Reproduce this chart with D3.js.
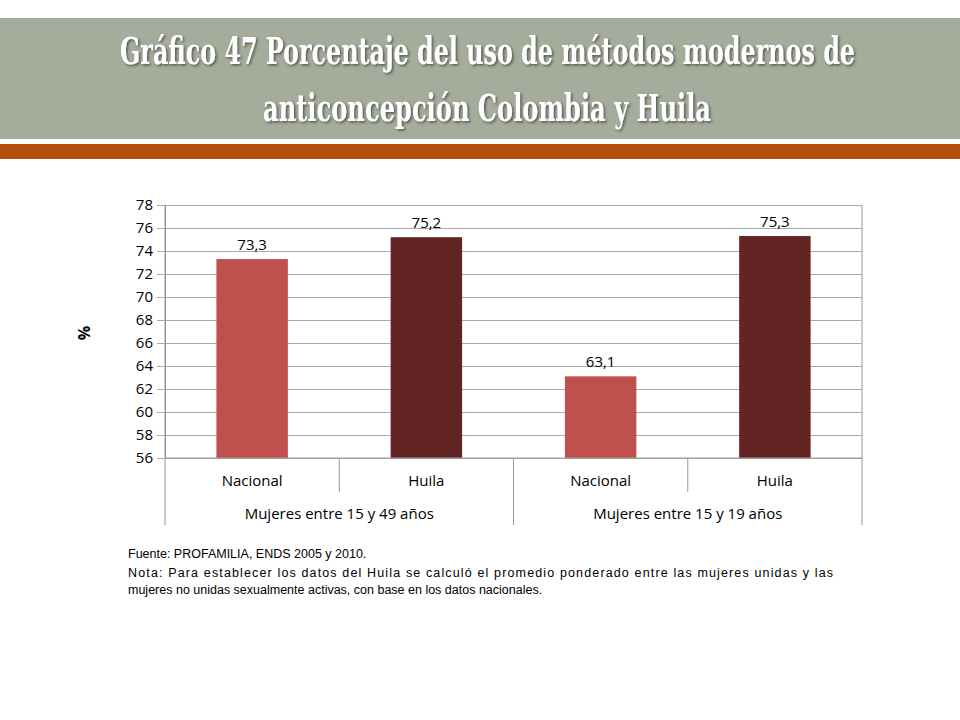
<!DOCTYPE html>
<html><head><meta charset="utf-8">
<script src="https://cdn.jsdelivr.net/npm/d3@7"></script>
<style>body{margin:0;background:#fff}</style>
</head><body>
<script>
// Data
var groups = ["Mujeres entre 15 y 49 años", "Mujeres entre 15 y 19 años"];
var places = ["Nacional", "Huila", "Nacional", "Huila"];
var values = [73.3, 75.2, 63.1, 75.3];
var yTicks = [56, 58, 60, 62, 64, 66, 68, 70, 72, 74, 76, 78];
var colors = ["#c0504d", "#632523", "#c0504d", "#632523"];

var svg = d3.select("body").append("svg").attr("width", 960).attr("height", 720);

// Title banner
svg.append("rect").attr("x", 0).attr("y", 18).attr("width", 960).attr("height", 121).attr("fill", "#a5ac9b");
svg.append("rect").attr("x", 0).attr("y", 144).attr("width", 960).attr("height", 15).attr("fill", "#b5500f");
var defs = svg.append("defs");
defs.append("filter").attr("id", "sh").append("feDropShadow")
	.attr("dx", 1.5).attr("dy", 1.5).attr("stdDeviation", 1).attr("flood-color", "#333").attr("flood-opacity", 0.7);
var title = svg.append("text").attr("fill", "#fff")
	.attr("filter", "url(#sh)")
	.style("font-family", "'DejaVu Serif Condensed', 'DejaVu Serif', serif")
	.style("font-size", "38px").style("font-weight", "bold");
title.append("tspan").attr("x", 120).attr("y", 64).attr("textLength", 735).attr("lengthAdjust", "spacingAndGlyphs")
	.text("Gráfico 47 Porcentaje del uso de métodos modernos de");
title.append("tspan").attr("x", 263).attr("y", 121).attr("textLength", 448).attr("lengthAdjust", "spacingAndGlyphs")
	.text("anticoncepción Colombia y  Huila");

// Chart
var pLeft = 165, pRight = 862, pTop = 205, pBottom = 458;
var x = d3.scaleBand().domain(d3.range(values.length)).range([pLeft, pRight]).paddingInner(0.59).paddingOuter(0.295);
var y = d3.scaleLinear().domain([56, 78]).range([pBottom, pTop]);
var font = "'Open Sans', Calibri, sans-serif";

var yAxis = svg.append("g").attr("transform", "translate(" + pLeft + ",0)")
	.call(d3.axisLeft(y).tickValues(yTicks).tickSize(-(pRight - pLeft)).tickPadding(12).tickSizeOuter(0));
yAxis.select(".domain").attr("stroke", "#888");
yAxis.selectAll(".tick line").attr("stroke", "#aaa");
yAxis.selectAll(".tick").append("line").attr("x1", -8).attr("x2", 0).attr("stroke", "#aaa");
yAxis.selectAll("text").style("font-family", font).style("font-size", "15px").attr("fill", "#000");

svg.selectAll("rect.bar").data(values).enter().append("rect").attr("class", "bar")
	.attr("x", (d, i) => x(i)).attr("width", x.bandwidth())
	.attr("y", d => y(d)).attr("height", d => y(56) - y(d))
	.attr("fill", (d, i) => colors[i]);

svg.selectAll("text.val").data(values).enter().append("text").attr("class", "val")
	.attr("x", (d, i) => x(i) + x.bandwidth() / 2).attr("y", d => y(d) - 9)
	.attr("text-anchor", "middle").style("font-family", font).style("font-size", "15px")
	.text(d => String(d).replace(".", ","));

// Category axis
var step = (pRight - pLeft) / values.length;
var ax = svg.append("g").attr("stroke", "#999").attr("fill", "none");
ax.append("line").attr("x1", pLeft).attr("x2", pLeft).attr("y1", pTop).attr("y2", 525);
ax.append("line").attr("x1", pRight).attr("x2", pRight).attr("y1", pTop).attr("y2", 525);
ax.append("line").attr("x1", pLeft).attr("x2", pRight).attr("y1", pBottom).attr("y2", pBottom);
[1, 3].forEach(i => ax.append("line").attr("x1", pLeft + step * i).attr("x2", pLeft + step * i).attr("y1", pBottom).attr("y2", 492));
ax.append("line").attr("x1", pLeft + step * 2).attr("x2", pLeft + step * 2).attr("y1", pBottom).attr("y2", 525);

svg.selectAll("text.pl").data(places).enter().append("text")
	.attr("x", (d, i) => pLeft + step * (i + 0.5)).attr("y", 486).attr("text-anchor", "middle")
	.style("font-family", font).style("font-size", "15px").text(d => d);
svg.selectAll("text.gr").data(groups).enter().append("text")
	.attr("x", (d, i) => pLeft + step * (2 * i + 1)).attr("y", 519).attr("text-anchor", "middle")
	.style("font-family", font).style("font-size", "15px").text(d => d);

svg.append("text").attr("transform", "translate(90,333) rotate(-90)").attr("text-anchor", "middle")
	.style("font-family", font).style("font-size", "16px").style("font-weight", "bold").text("%");

// Notes
var note = svg.append("text").style("font-family", "'Liberation Sans', Arial, sans-serif").style("font-size", "12.5px");
note.append("tspan").attr("x", 128).attr("y", 558).text("Fuente: PROFAMILIA, ENDS 2005 y 2010.");
note.append("tspan").attr("x", 128).attr("y", 577).attr("textLength", 705).attr("lengthAdjust", "spacing")
	.text("Nota: Para establecer los datos del Huila se calculó el promedio ponderado entre las mujeres unidas y las");
note.append("tspan").attr("x", 128).attr("y", 594).text("mujeres no unidas sexualmente activas, con base en los datos nacionales.");
</script>
</body></html>
